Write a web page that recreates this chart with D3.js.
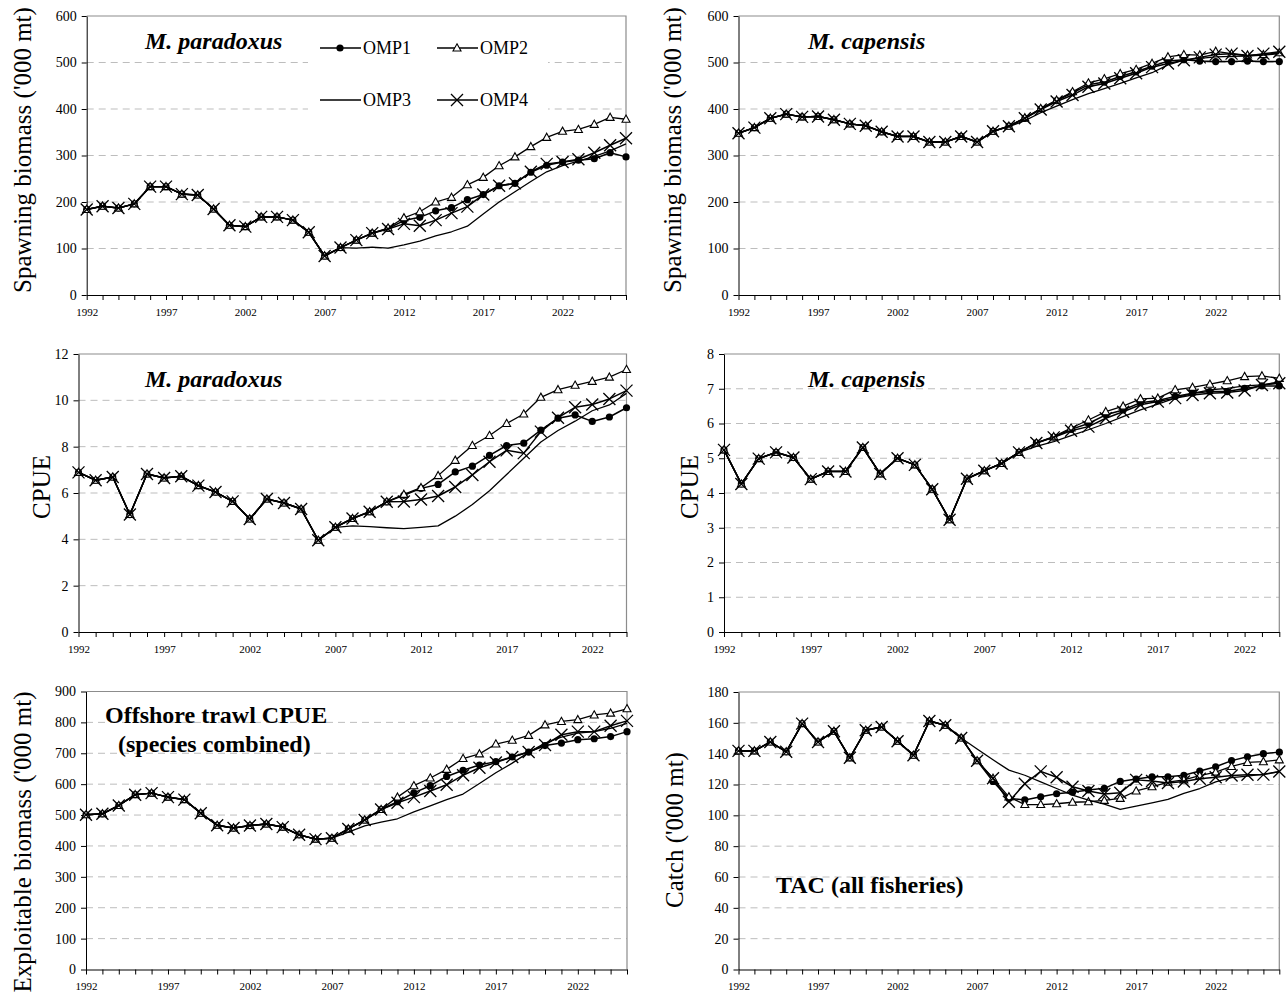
<!DOCTYPE html>
<html>
<head>
<meta charset="utf-8">
<script src="https://cdn.jsdelivr.net/npm/d3@7"></script>
<style>
  body { margin: 0; background: #fff; }
  svg { display: block; font-family: "Liberation Serif", "Times New Roman", serif; }
</style>
</head>
<body>
<svg id="chart" width="1286" height="1001"></svg>
<script>
// --- data ---
const labelYears = [1992, 1997, 2002, 2007, 2012, 2017, 2022];
const omps = ["OMP1", "OMP2", "OMP3", "OMP4"];

// spawning biomass, M. paradoxus ('000 mt), 1992-2026
const yearsSsb = d3.range(1992, 2027);
const ssbParHist = [184, 191, 187, 196, 233, 233, 217, 215, 185, 150, 147, 168, 168, 161, 135, 84, 102]; // 1992-2008
const ssbParOmp1 = [118, 133, 143, 160, 167, 181, 188, 205, 216, 235, 240, 264, 279, 286, 290, 293, 306, 297];
const ssbParOmp2 = [118, 133, 144, 166, 179, 200, 210, 237, 253, 278, 297, 319, 339, 352, 356, 367, 382, 378];
const ssbParOmp3 = [101, 103, 101, 108, 116, 127, 136, 148, 174, 200, 222, 244, 265, 278, 288, 298, 310, 325];
const ssbParOmp4 = [118, 133, 142, 153, 149, 161, 176, 190, 216, 235, 240, 265, 282, 286, 292, 306, 322, 337];

// spawning biomass, M. capensis ('000 mt), 1992-2026
const ssbCapHist = [348, 360, 380, 389, 383, 384, 377, 368, 364, 351, 341, 341, 329, 329, 341, 329, 352]; // 1992-2008
const ssbCapOmp1 = [363, 380, 400, 418, 435, 452, 458, 470, 480, 492, 503, 506, 503, 502, 502, 503, 502, 502];
const ssbCapOmp2 = [363, 381, 401, 419, 437, 456, 465, 476, 485, 498, 512, 517, 516, 524, 519, 516, 517, 521];
const ssbCapOmp3 = [362, 375, 392, 406, 420, 433, 444, 455, 467, 478, 495, 505, 509, 512, 513, 514, 516, 519];
const ssbCapOmp4 = [363, 380, 399, 416, 430, 448, 455, 466, 477, 490, 498, 505, 511, 517, 519, 514, 519, 523];

// CPUE, M. paradoxus, 1992-2024
const yearsCpue = d3.range(1992, 2025);
const cpueParHist = [6.89, 6.55, 6.69, 5.07, 6.82, 6.65, 6.72, 6.32, 6.04, 5.64, 4.88, 5.74, 5.57, 5.31, 3.96, 4.52]; // 1992-2007
const cpueParOmp1 = [4.9, 5.19, 5.62, 5.9, 6.2, 6.37, 6.91, 7.16, 7.62, 8.05, 8.15, 8.71, 9.23, 9.37, 9.09, 9.28, 9.68];
const cpueParOmp2 = [4.9, 5.19, 5.62, 5.94, 6.23, 6.75, 7.41, 8.05, 8.48, 9.0, 9.41, 10.13, 10.46, 10.65, 10.82, 11.0, 11.33];
const cpueParOmp3 = [4.58, 4.55, 4.5, 4.46, 4.52, 4.58, 5.0, 5.5, 6.1, 6.8, 7.5, 8.2, 8.7, 9.1, 9.55, 9.8, 10.3];
const cpueParOmp4 = [4.9, 5.19, 5.62, 5.63, 5.72, 5.87, 6.26, 6.78, 7.35, 7.84, 7.72, 8.65, 9.25, 9.7, 9.82, 10.06, 10.42];

// CPUE, M. capensis, 1992-2024
const cpueCapHist = [5.24, 4.26, 4.99, 5.17, 5.02, 4.4, 4.62, 4.62, 5.31, 4.55, 5.0, 4.81, 4.11, 3.23, 4.41, 4.64, 4.85, 5.17]; // 1992-2009
const cpueCapOmp1 = [5.44, 5.61, 5.83, 6.0, 6.25, 6.39, 6.6, 6.66, 6.78, 6.87, 6.92, 6.92, 7.01, 7.08, 7.08];
const cpueCapOmp2 = [5.44, 5.62, 5.87, 6.1, 6.34, 6.5, 6.71, 6.73, 6.97, 7.04, 7.13, 7.23, 7.35, 7.37, 7.3];
const cpueCapOmp3 = [5.34, 5.48, 5.65, 5.82, 6.0, 6.2, 6.39, 6.56, 6.73, 6.87, 6.97, 7.01, 7.08, 7.11, 7.2];
const cpueCapOmp4 = [5.44, 5.6, 5.79, 5.91, 6.15, 6.34, 6.54, 6.63, 6.73, 6.82, 6.87, 6.89, 6.95, 7.11, 7.16];

// exploitable biomass, offshore trawl ('000 mt), 1992-2025
const yearsExpl = d3.range(1992, 2026);
const explHist = [501, 504, 531, 566, 571, 558, 550, 506, 467, 458, 466, 471, 461, 436, 422, 425]; // 1992-2007
const explOmp1 = [455, 484, 518, 543, 572, 595, 625, 645, 662, 673, 688, 704, 725, 733, 744, 747, 754, 770];
const explOmp2 = [455, 484, 518, 558, 595, 620, 648, 683, 698, 730, 742, 758, 792, 803, 809, 824, 830, 844];
const explOmp3 = [445, 465, 477, 488, 510, 530, 550, 568, 602, 637, 668, 703, 733, 752, 765, 770, 781, 797];
const explOmp4 = [455, 484, 518, 540, 558, 578, 598, 629, 653, 670, 688, 704, 727, 760, 770, 770, 789, 805];

// TAC, all fisheries ('000 mt), 1992-2026
const tacHist = [141.8, 141.8, 147.6, 141.2, 159.5, 147.6, 154.5, 137.3, 155.2, 157.3, 148.1, 139.0, 161.2, 158.4, 150.2]; // 1992-2006
const tacOmp1 = [135.4, 122, 111, 110, 112, 114, 115, 116.5, 117.5, 122, 123.5, 125, 125, 126, 128.7, 131.5, 135.5, 138, 140, 141];
const tacOmp2 = [135.4, 124, 112, 107, 107, 107.5, 108.5, 108.8, 109.7, 111, 115.8, 118.5, 121.5, 123, 125.7, 128, 131.7, 134.3, 134.8, 136];
const tacOmp3 = [143, 136, 129.3, 126, 121.7, 117.4, 113.1, 109.8, 107.2, 103.8, 106, 108.1, 110.3, 114.2, 117.4, 121.7, 124.5, 125.4, 126.7, 128.2];
const tacOmp4 = [135.4, 124, 108.8, 120.5, 128.5, 124.7, 118.5, 115.8, 113.8, 114.7, 123, 122.3, 121, 122, 123.7, 124.7, 125.8, 126.3, 126.4, 128.4];

// --- drawing ---
const svg = d3.select("#chart");

const markers = {
  OMP1: { width: 1.5 },
  OMP2: { width: 1.3 },
  OMP3: { width: 1.3 },
  OMP4: { width: 1.5 }
};

function drawMarker(g, name, cx, cy) {
  if (name === "OMP1") {
    g.append("circle").attr("cx", cx).attr("cy", cy).attr("r", 3.6).attr("fill", "#000");
  } else if (name === "OMP2") {
    g.append("path").attr("transform", `translate(${cx},${cy})`)
      .attr("d", "M0,-4.2L4,3L-4,3Z").attr("fill", "#fff").attr("stroke", "#000").attr("stroke-width", 1.1);
  } else if (name === "OMP4") {
    g.append("path").attr("transform", `translate(${cx},${cy})`)
      .attr("d", "M-6,-6L6,6M-6,6L6,-6").attr("fill", "none").attr("stroke", "#000").attr("stroke-width", 1.3);
  }
}

function drawPanel(p) {
  const x = d3.scalePoint().domain(p.years).range([p.left, p.right]);
  const y = d3.scaleLinear().domain([0, p.max]).range([p.bottom, p.top]);
  const g = svg.append("g");

  // dashed gridlines
  g.selectAll("line.grid")
    .data(p.yTicks.filter(v => v > 0 && v < p.max))
    .join("line")
    .attr("class", "grid")
    .attr("x1", p.left).attr("x2", p.right)
    .attr("y1", d => y(d)).attr("y2", d => y(d))
    .attr("stroke", "#bdbdbd").attr("stroke-width", 1)
    .attr("stroke-dasharray", "7,5");

  // plot frame (grey top/right)
  g.append("path")
    .attr("d", `M${p.left},${p.top}H${p.right}V${p.bottom}`)
    .attr("fill", "none").attr("stroke", "#8c8c8c").attr("stroke-width", 1.2);

  if (p.legend) p.legend(g);

  // axes
  const xAxis = d3.axisBottom(x).tickSize(5).tickSizeOuter(0).tickPadding(8)
    .tickFormat(d => labelYears.includes(d) ? d : "");
  g.append("g").attr("transform", `translate(0,${p.bottom})`).call(xAxis)
    .call(a => a.selectAll("text").attr("font-size", 11).attr("font-family", "Liberation Serif"))
    .call(a => a.selectAll("line,path").attr("stroke", "#000"));

  const yAxis = d3.axisLeft(y).tickValues(p.yTicks).tickSize(5).tickSizeOuter(0).tickPadding(5);
  g.append("g").attr("transform", `translate(${p.left},0)`).call(yAxis)
    .call(a => a.selectAll("text").attr("font-size", 14).attr("font-family", "Liberation Serif"))
    .call(a => a.selectAll("line,path").attr("stroke", "#000"));

  // series
  const line = d3.line().x((d, i) => x(p.years[i])).y(d => y(d));
  omps.forEach((name, k) => {
    const vals = p.hist.concat(p.series[k]);
    g.append("path").datum(vals).attr("d", line)
      .attr("fill", "none").attr("stroke", "#000")
      .attr("stroke-width", markers[name].width).attr("stroke-linejoin", "round");
    const mg = g.append("g");
    vals.forEach((v, i) => drawMarker(mg, name, x(p.years[i]), y(v)));
  });

  // y title
  g.append("text")
    .attr("transform", `translate(${p.titleX},${p.titleY}) rotate(-90)`)
    .attr("text-anchor", "middle").attr("font-size", 25)
    .text(p.yTitle);

  // panel label
  p.labels.forEach(l => {
    g.append("text").attr("x", l.x).attr("y", l.y)
      .attr("font-size", 24).attr("font-weight", "bold")
      .attr("font-style", l.italic ? "italic" : "normal")
      .text(l.text);
  });
}

function omp1Legend(g) {
  g.append("rect").attr("x", 308).attr("y", 24).attr("width", 240).attr("height", 94).attr("fill", "#fff");
  const items = [
    { name: "OMP1", x: 320, y: 48 },
    { name: "OMP2", x: 437, y: 48 },
    { name: "OMP3", x: 320, y: 100 },
    { name: "OMP4", x: 437, y: 100 }
  ];
  items.forEach(it => {
    g.append("line").attr("x1", it.x).attr("x2", it.x + 41).attr("y1", it.y).attr("y2", it.y)
      .attr("stroke", "#000").attr("stroke-width", markers[it.name].width);
    drawMarker(g, it.name, it.x + 20, it.y);
    g.append("text").attr("x", it.x + 43).attr("y", it.y + 6).attr("font-size", 18).text(it.name);
  });
}

const panels = [
  {
    years: yearsSsb, hist: ssbParHist, series: [ssbParOmp1, ssbParOmp2, ssbParOmp3, ssbParOmp4],
    left: 86.7, right: 626, top: 16, bottom: 295, max: 600, yTicks: d3.range(0, 601, 100),
    yTitle: "Spawning biomass ('000 mt)", titleX: 31, titleY: 150,
    labels: [{ text: "M. paradoxus", x: 145, y: 49, italic: true }], legend: omp1Legend
  },
  {
    years: yearsSsb, hist: ssbCapHist, series: [ssbCapOmp1, ssbCapOmp2, ssbCapOmp3, ssbCapOmp4],
    left: 738.5, right: 1279.3, top: 16, bottom: 295, max: 600, yTicks: d3.range(0, 601, 100),
    yTitle: "Spawning biomass ('000 mt)", titleX: 681, titleY: 150,
    labels: [{ text: "M. capensis", x: 808, y: 49, italic: true }]
  },
  {
    years: yearsCpue, hist: cpueParHist, series: [cpueParOmp1, cpueParOmp2, cpueParOmp3, cpueParOmp4],
    left: 78.5, right: 626.5, top: 354, bottom: 632, max: 12, yTicks: d3.range(0, 13, 2),
    yTitle: "CPUE", titleX: 50, titleY: 487,
    labels: [{ text: "M. paradoxus", x: 145, y: 387, italic: true }]
  },
  {
    years: yearsCpue, hist: cpueCapHist, series: [cpueCapOmp1, cpueCapOmp2, cpueCapOmp3, cpueCapOmp4],
    left: 724, right: 1279.3, top: 354, bottom: 632, max: 8, yTicks: d3.range(0, 9, 1),
    yTitle: "CPUE", titleX: 698, titleY: 487,
    labels: [{ text: "M. capensis", x: 808, y: 387, italic: true }]
  },
  {
    years: yearsExpl, hist: explHist, series: [explOmp1, explOmp2, explOmp3, explOmp4],
    left: 86, right: 627, top: 691.5, bottom: 969.5, max: 900, yTicks: d3.range(0, 901, 100),
    yTitle: "Exploitable biomass ('000 mt)", titleX: 31, titleY: 842,
    labels: [
      { text: "Offshore trawl CPUE", x: 105, y: 723 },
      { text: "(species combined)", x: 118, y: 752 }
    ]
  },
  {
    years: yearsSsb, hist: tacHist, series: [tacOmp1, tacOmp2, tacOmp3, tacOmp4],
    left: 738.5, right: 1279.3, top: 692, bottom: 969.5, max: 180, yTicks: d3.range(0, 181, 20),
    yTitle: "Catch ('000 mt)", titleX: 683, titleY: 830,
    labels: [{ text: "TAC (all fisheries)", x: 776, y: 893 }]
  }
];

panels.forEach(drawPanel);
</script>
</body>
</html>
